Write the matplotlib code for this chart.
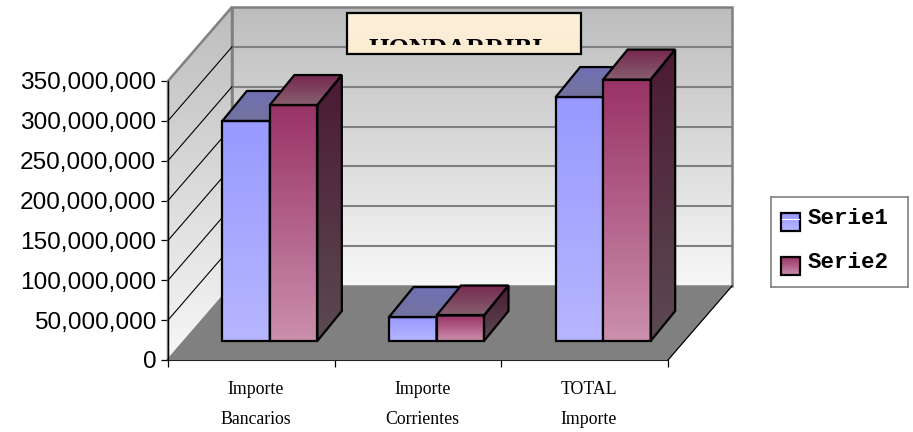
import numpy as np
import matplotlib
matplotlib.use("Agg")
import matplotlib.pyplot as plt
from matplotlib.colors import to_rgb
from matplotlib.patches import Polygon, Rectangle

categories = ["Importe\nBancarios", "Importe\nCorrientes", "TOTAL\nImporte"]
serie1 = [276000000, 30000000, 306000000]
serie2 = [296000000, 32000000, 328000000]
yticks = [0, 50000000, 100000000, 150000000, 200000000, 250000000, 300000000, 350000000]
title = "HONDARRIBI"

W, H = 913, 432
# escala: pixeles por categoria y por unidad
PX_CAT = 500 / 3
PX_VAL = 279 / 350000000
X0, Y0 = 168, 360


def vx(px):
    return (px - X0) / PX_CAT


def vy(py):
    return (Y0 - py) / PX_VAL


# profundidad de la caja y de las barras
wall_dx, wall_dv = 64 / PX_CAT, 74 / PX_VAL
in_dx, in_dv = 16.5 / PX_CAT, 19 / PX_VAL
bar_dx, bar_dv = 24.5 / PX_CAT, 30 / PX_VAL
bar_w = 47.5 / PX_CAT


def gradient(ax, patch, top, bottom, z):
    # relleno degradado vertical recortado al poligono
    ax.add_patch(patch)
    xy = patch.get_xy() if isinstance(patch, Polygon) else patch.get_corners()
    t = np.linspace(0, 1, 256)[:, None, None]
    img = (1 - t) * np.array(to_rgb(top)) + t * np.array(to_rgb(bottom))
    im = ax.imshow(img, aspect="auto", interpolation="bilinear", zorder=z,
                   extent=(xy[:, 0].min(), xy[:, 0].max(), xy[:, 1].min(), xy[:, 1].max()))
    im.set_clip_path(patch)


def draw_bars(ax, left, values, front, top, side, z):
    bars = ax.bar(left, values, bar_w, bottom=in_dv, align="edge", facecolor="none",
                  edgecolor="black", linewidth=1.6, zorder=z + 1)
    for b in bars:
        x0, x1 = b.get_x(), b.get_x() + b.get_width()
        y0, y1 = b.get_y(), b.get_y() + b.get_height()
        roof = Polygon([(x0, y1), (x1, y1), (x1 + bar_dx, y1 + bar_dv), (x0 + bar_dx, y1 + bar_dv)],
                       edgecolor="black", linewidth=1.6, facecolor="none", zorder=z + 1)
        wall = Polygon([(x1, y0), (x1, y1), (x1 + bar_dx, y1 + bar_dv), (x1 + bar_dx, y0 + bar_dv)],
                       edgecolor="black", linewidth=1.6, facecolor="none", zorder=z + 1)
        gradient(ax, roof, top[0], top[1], z)
        gradient(ax, wall, side[0], side[1], z)
        face = Rectangle((x0, y0), x1 - x0, y1 - y0, facecolor="none", edgecolor="none", zorder=z)
        gradient(ax, face, front[0], front[1], z)


fig = plt.figure(figsize=(W / 100, H / 100), dpi=100)
ax = fig.add_axes([0, 0, 1, 1])
ax.patch.set_visible(False)

top_v = yticks[-1]
n = len(categories)

# paredes y suelo
back = Polygon([(wall_dx, wall_dv), (n + wall_dx, wall_dv), (n + wall_dx, top_v + wall_dv), (wall_dx, top_v + wall_dv)],
               facecolor="none", edgecolor="#808080", linewidth=1.8, zorder=2)
side_w = Polygon([(0, 0), (wall_dx, wall_dv), (wall_dx, top_v + wall_dv), (0, top_v)],
                 facecolor="none", edgecolor="#808080", linewidth=1.8, zorder=2)
gradient(ax, back, "#bdbdbd", "#f7f7f7", 1)
gradient(ax, side_w, "#bdbdbd", "#f7f7f7", 1)
ax.add_patch(Polygon([(0, 0), (n, 0), (n + wall_dx, wall_dv), (wall_dx, wall_dv)],
                     facecolor="#808080", edgecolor="none", zorder=3))
ax.plot([n, n + wall_dx], [0, wall_dv], color="black", linewidth=0.9, zorder=3)

for v in yticks[1:-1]:
    ax.plot([wall_dx, n + wall_dx], [v + wall_dv, v + wall_dv], color="#808080", linewidth=1.5, zorder=2)
    ax.plot([0, wall_dx], [v, v + wall_dv], color="black", linewidth=0.8, zorder=2)

# barras
pos = np.arange(n) + 0.5 + in_dx + 0.012
draw_bars(ax, pos - bar_w, serie1, ("#9999ff", "#b6b6ff"), ("#7070b4", "#73739f"),
          ("#4d4d80", "#55556e"), 4)
draw_bars(ax, pos, serie2, ("#993366", "#cb8fad"), ("#762850", "#87606f"),
          ("#4c1a33", "#5b4a52"), 6)

# titulo
box = Rectangle((vx(347), vy(54)), vx(581) - vx(347), vy(13) - vy(54), facecolor="none",
                edgecolor="black", linewidth=1.6, zorder=9)
gradient(ax, box, "#fdf0da", "#fbecd2", 8)
t = ax.text(vx(456), vy(38), title, family="Liberation Serif", weight="bold", fontsize=19,
            ha="center", va="top", zorder=10)
t.set_clip_on(True)
t.set_clip_path(Rectangle((vx(347), vy(44.5)), vx(581) - vx(347), vy(13) - vy(44.5), transform=ax.transData))

# ejes
ax.set_xlim(vx(0), vx(W))
ax.set_ylim(vy(H), vy(0))
for s in ["top", "right"]:
    ax.spines[s].set_visible(False)
ax.spines["left"].set_position(("data", 0))
ax.spines["left"].set_bounds(0, top_v)
ax.spines["left"].set_linewidth(0.9)
ax.spines["left"].set_zorder(5)
ax.spines["bottom"].set_position(("data", 0))
ax.spines["bottom"].set_bounds(0, n)
ax.spines["bottom"].set_linewidth(1.5)
ax.spines["bottom"].set_color("#222222")
ax.set_yticks(yticks)
ax.set_yticklabels([f"{v:,}" for v in yticks], family="Liberation Sans", fontsize=17.6)
ax.tick_params(axis="y", length=5, width=0.9, pad=3.5)
ax.set_xticks(np.arange(n + 1))
ax.set_xticklabels([])
ax.tick_params(axis="x", which="major", length=5, width=0.9)
ax.set_xticks(np.arange(n) + 0.525, minor=True)
ax.set_xticklabels(categories, minor=True, family="Liberation Serif", fontsize=12.8, linespacing=2.0)
ax.tick_params(axis="x", which="minor", length=0, pad=15)

# leyenda
lg = fig.add_axes([771 / W, 1 - 287 / H, 137 / W, 90 / H])
lg.set_xticks([])
lg.set_yticks([])
for s in lg.spines.values():
    s.set_color("#808080")
    s.set_linewidth(1.2)
for name, cols, y in [("Serie1", ("#9999ff", "#b6b6ff"), 213), ("Serie2", ("#993366", "#cb8fad"), 257)]:
    sw = Rectangle((781, y), 19, 18, facecolor="none", edgecolor="black", linewidth=1.6, zorder=3)
    lg.add_patch(sw)
    g = np.linspace(0, 1, 64)[:, None, None]
    lg.imshow((1 - g) * np.array(to_rgb(cols[0])) + g * np.array(to_rgb(cols[1])), aspect="auto",
              extent=(781, 800, y + 18, y), zorder=2)
    lg.text(808, y + 5, name, family="Liberation Mono", weight="bold", fontsize=16.2, va="center", ha="left")
lg.plot([782, 799], [219, 219], color="white", linewidth=0.8, zorder=3)
lg.set_xlim(771, 908)
lg.set_ylim(287, 197)

fig.savefig("out.png", dpi=100)
